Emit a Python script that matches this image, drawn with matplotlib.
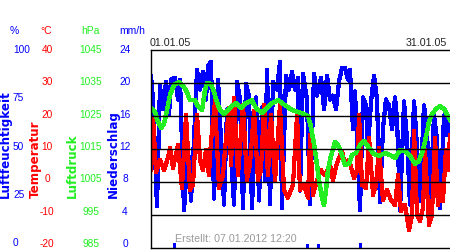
import matplotlib
matplotlib.use("Agg")
import matplotlib.pyplot as plt
from matplotlib.transforms import ScaledTranslation

# time axis in days since 01.01.05 00:00
hum_t = [0.00, 0.21, 0.62, 0.93, 1.24, 1.56, 1.87, 2.07, 2.49, 2.80, 3.01, 3.42, 3.84, 4.15,
         4.46, 4.77, 5.08, 5.39, 5.70, 5.91, 6.22, 6.53, 6.95, 7.15, 7.57, 7.88, 8.19, 8.61,
         8.92, 9.23, 9.54, 9.85, 10.16, 10.47, 10.89, 11.20, 11.51, 11.82, 12.03, 12.34,
         12.65, 13.06, 13.37, 13.58, 14.00, 14.31, 14.62, 14.93, 15.24, 15.45, 15.76, 16.17,
         16.49, 16.90, 17.21, 17.63, 17.94, 18.25, 18.56, 18.87, 19.18, 19.49, 19.80, 20.11,
         20.42, 20.63, 20.94, 21.15, 21.36, 21.67, 21.98, 22.30, 22.50, 22.81, 23.12, 23.43,
         23.74, 24.05, 24.36, 24.67, 24.99, 25.30, 25.51, 25.82, 26.23, 26.54, 26.85, 27.27,
         27.47, 27.88, 28.30, 28.61, 28.92, 29.34, 29.65, 29.96, 30.38, 30.69, 31.00]
hum_v = [87, 75, 21, 82, 70, 84, 67, 85, 86, 75, 85, 19, 50, 24,
         55, 90, 80, 89, 75, 92, 94, 25, 85, 65, 22, 70, 55, 22,
         84, 75, 20, 83, 77, 20, 76, 24, 71, 34, 90, 22,
         84, 80, 94, 20, 87, 80, 89, 80, 86, 29, 88, 75,
         22, 88, 77, 86, 70, 87, 75, 77, 70, 84, 91, 91,
         85, 90, 60, 79, 55, 19, 76, 72, 50, 74, 87, 75,
         23, 60, 75, 72, 60, 76, 65, 19, 74, 55, 22, 74,
         60, 24, 72, 60, 19, 67, 55, 20, 67, 57, 66]

temp_t = [0.00, 0.21, 0.52, 0.93, 1.35, 1.76, 1.97, 2.28, 2.80, 3.21, 3.63, 4.04, 4.35, 4.77,
          5.08, 5.39, 5.70, 6.01, 6.22, 6.64, 7.05, 7.46, 7.67, 8.09, 8.29, 8.61, 9.02, 9.54,
          9.95, 10.26, 10.68, 11.09, 11.40, 11.72, 12.13, 12.44, 12.86, 13.37, 13.79, 14.20,
          14.72, 15.14, 15.45, 15.86, 16.28, 16.49, 16.80, 17.21, 17.63, 18.04, 18.56, 18.87,
          19.28, 19.80, 20.11, 20.53, 21.05, 21.36, 21.57, 21.88, 22.30, 22.61, 23.02, 23.33,
          23.64, 24.05, 24.47, 24.88, 25.30, 25.61, 25.92, 26.33, 26.75, 27.06, 27.27, 27.58,
          27.88, 28.20, 28.41, 28.82, 29.13, 29.45, 29.75, 30.07, 30.27, 30.58, 30.79, 31.00]
temp_v = [3.6, 19.4, 3.0, 6.7, 3.6, 7.3, 10.3, 4.2, 11.2, -1.8, 20.3, -2.4, -0.9, 20.3,
          6.7, 3.6, 9.7, 2.1, 12.4, 24.5, -1.8, 2.1, 9.7, 22.4, 5.2, 25.5, 2.1, 23.3,
          0.6, 5.2, 21.5, 0.6, 3.6, 23.3, 2.1, 20.3, 0.3, 23.3, -2.4, -4.8,
          -0.9, 20.3, -2.4, -0.9, -4.8, 14.2, -3.9, 0.6, 3.6, 2.1, 5.2, 0.6,
          5.8, 9.4, 5.2, 6.7, 1.2, 3.6, 20.3, -0.9, -1.8, 13.3, -3.9, -0.9,
          10.3, -5.5, -2.4, -5.5, -7.0, 2.1, -8.8, -7.0, -14.5, -10.0, 15.5, -10.0,
          -11.8, -7.9, 9.7, -13.0, -10.0, 13.3, -7.0, -0.9, -5.8, 9.7, 3.6, 14.2]

press_t = [0.00, 0.41, 0.73, 1.04, 1.35, 1.66, 1.97, 2.38, 2.90, 3.32, 3.63, 4.04, 4.56, 4.87,
           5.29, 5.60, 5.81, 6.22, 6.53, 6.84, 7.15, 7.57, 7.98, 8.40, 8.81, 9.33, 9.85, 10.47,
           10.89, 11.51, 12.03, 12.55, 13.17, 13.89, 14.62, 15.24, 15.86, 16.28, 16.59, 17.00,
           17.42, 17.73, 17.94, 18.14, 18.35, 18.66, 19.08, 19.39, 19.70, 20.11, 20.53, 20.84,
           21.26, 21.67, 22.09, 22.61, 23.12, 23.64, 24.26, 24.78, 25.30, 25.82, 26.33, 26.85,
           27.37, 27.79, 28.20, 28.51, 28.82, 29.13, 29.55, 29.96, 30.38, 30.69, 31.00]
press_v = [1027.4, 1026.2, 1023.2, 1021.4, 1022.6, 1026.8, 1031.4, 1034.4, 1035.3, 1034.1,
           1032.9, 1029.8, 1029.8, 1028.0, 1026.8, 1032.9, 1035.0, 1034.7, 1032.3, 1029.2,
           1026.8, 1025.6, 1026.8, 1028.0, 1028.9, 1027.4, 1028.9, 1029.8, 1027.4, 1025.9,
           1027.4, 1028.9, 1029.8, 1028.3, 1026.8, 1026.2, 1025.6, 1025.0, 1021.7, 1014.7,
           1005.6, 1000.2, 998.0, 1002.6, 1008.6, 1012.9, 1017.1, 1016.2, 1014.1, 1010.2,
           1010.5, 1013.2, 1013.8, 1016.2, 1017.4, 1015.3, 1013.5, 1012.9, 1013.8, 1013.2,
           1012.3, 1014.7, 1014.4, 1012.9, 1010.5, 1011.4, 1014.7, 1018.6, 1023.2, 1025.6,
           1027.1, 1028.0, 1027.1, 1025.6, 1023.8]

rain_t = [2.4, 16.2, 17.4, 21.7]
rain_v = [0.6, 0.5, 0.5, 0.6]

hum_ticks = [0, 25, 50, 75, 100]
temp_ticks = [-20, -10, 0, 10, 20, 30, 40]
press_ticks = [985, 995, 1005, 1015, 1025, 1035, 1045]
rain_ticks = [0, 4, 8, 12, 16, 20, 24]

BLUE = "#0000FF"
RED = "#FF0000"
GREEN = "#22EE22"
NUM = ["Liberation Sans", "DejaVu Sans"]

fig = plt.figure(figsize=(4.5, 2.5), dpi=100)
axH = fig.add_axes([151 / 450, 2 / 250, 299 / 450, 198 / 250])
axT = axH.twinx()
axP = axH.twinx()
axR = axH.twinx()

axH.set_ylim(0, 100)
axT.set_ylim(-20, 40)
axP.set_ylim(985, 1045)
axR.set_ylim(0, 24)
for a in (axH, axT, axP, axR):
    a.set_xlim(0, 31)
    a.set_xticks([])
    a.set_yticks([])
    for s in a.spines.values():
        s.set_visible(False)

axH.plot(hum_t, hum_v, color=BLUE, lw=2.3, antialiased=False)
axT.plot(temp_t, temp_v, color=RED, lw=2.3, antialiased=False)
axP.plot(press_t, press_v, color=GREEN, lw=2.5, antialiased=False)
axR.bar(rain_t, rain_v, width=0.3, color=BLUE, antialiased=False)

# grid lines + frame on top
for v in temp_ticks[1:-1]:
    axR.axhline((v + 20) / 60 * 24, color="black", lw=1.0, zorder=5)
for side in ("top", "left", "bottom"):
    axR.spines[side].set_visible(True)
    axR.spines[side].set_linewidth(1.0)

# tick label columns left of the plot
def column(ax, ticks, lo, hi, x_px, color, ha, shrink):
    for v in ticks:
        frac = (v - lo) / (hi - lo)
        dy = shrink * (1 - frac) / 100
        tr = ax.get_yaxis_transform() + ScaledTranslation(0, dy, fig.dpi_scale_trans)
        ax.text((x_px - 151) / 299, v, str(v), transform=tr, ha=ha, va="center",
                color=color, fontsize=7.3, family=NUM, clip_on=False)

column(axH, hum_ticks, 0, 100, 13, BLUE, "left", 4.5)
column(axT, temp_ticks, -20, 40, 47, RED, "center", 4)
column(axP, press_ticks, 985, 1045, 91, GREEN, "center", 4)
column(axR, rain_ticks, 0, 24, 125, BLUE, "center", 4)

# units
for x, s, c in [(14.5, "%", BLUE), (46.5, "°C", RED), (90, "hPa", GREEN), (132, "mm/h", BLUE)]:
    fig.text(x / 450, 1 - 30.5 / 250, s, ha="center", va="center", color=c,
             fontsize=7.5, family=NUM)

# rotated axis names
for x, s, c in [(5.0, "Luftfeuchtigkeit", BLUE), (35.0, "Temperatur", RED),
                (72.0, "Luftdruck", GREEN), (113.0, "Niederschlag", BLUE)]:
    fig.text(x / 450, 1 - 197.5 / 250, s, rotation=90, ha="center", va="bottom",
             color=c, fontsize=8.6, fontweight="bold", family="DejaVu Sans")

fig.text(150 / 450, 1 - 43 / 250, "01.01.05", ha="left", va="center",
         color="#222222", fontsize=7.7, family=NUM)
fig.text(447 / 450, 1 - 43 / 250, "31.01.05", ha="right", va="center",
         color="#222222", fontsize=7.7, family=NUM)
fig.text(175 / 450, 1 - 239.5 / 250, "Erstellt: 07.01.2012 12:20", ha="left", va="center",
         color="#999999", fontsize=7.7, family=NUM)

fig.savefig("out.png", dpi=100)
